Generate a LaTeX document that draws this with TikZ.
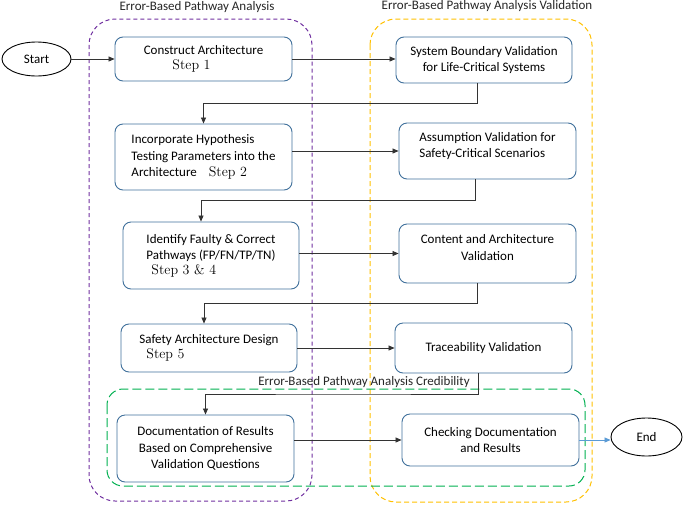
\documentclass[tikz,border=0pt]{standalone}
\usepackage{fontspec}
\newfontfamily\calibfont{Carlito}
\usepackage{tikz}
\usetikzlibrary{positioning}
\usetikzlibrary{calc}
\usetikzlibrary{arrows.meta}
\usetikzlibrary{shapes.geometric}

\definecolor{boxblue}{HTML}{41719C}
\definecolor{grppurple}{HTML}{7030A0}
\definecolor{grpyellow}{HTML}{FFC000}
\definecolor{grpgreen}{HTML}{00B050}
\definecolor{endblue}{HTML}{5B9BD5}
\newcommand{\stepno}[1]{{\rmfamily\fontsize{14}{16}\selectfont #1}}

\begin{document}
\begin{tikzpicture}[x=1pt, y=-1pt, font=\calibfont\fontsize{13}{16.5}\selectfont]

% Define styles for different elements
\tikzstyle{stage} = [rectangle, rounded corners=8pt, draw=boxblue, line width=0.9pt, fill=white, text centered, inner sep=2pt]
\tikzstyle{terminal} = [ellipse, draw=black, line width=0.9pt, inner sep=1pt]
\tikzstyle{arrow} = [line width=0.7pt, draw=black!80, -{Triangle[length=6pt,width=5pt]}]
\tikzstyle{grouplabel} = [text=black!85, inner sep=1pt]

\useasboundingbox (0,0) rectangle (683,504);

% Draw the group frames
\draw [grppurple, line width=1pt, dash pattern=on 4pt off 3pt, rounded corners=26pt] (89,19) rectangle (312,501);
\draw [grpyellow, line width=1pt, dash pattern=on 5pt off 3pt, rounded corners=26pt] (370,19) rectangle (592,502);
\draw [grpgreen, line width=1pt, dash pattern=on 9pt off 4pt, rounded corners=16pt] (107,389) rectangle (585,486);

\node (lblanalysis) [grouplabel] at (197,7) {Error-Based Pathway Analysis};
\node (lblvalid) [grouplabel] at (487,6) {Error-Based Pathway Analysis Validation};
\node (lblcred) [grouplabel] at (364,382) {Error-Based Pathway Analysis Credibility};

% Draw the nodes
\node (start) [terminal, minimum width=69pt, minimum height=34pt] at (36.5,59) {Start};
\node (construct) [stage, minimum width=177pt, minimum height=44pt, align=center] at (203.5,59) {Construct Architecture\\[-1pt]\stepno{Step 1}\hspace*{24pt}};
\node (incorp) [stage, minimum width=177pt, minimum height=66pt, align=left] at (203.5,157) {Incorporate Hypothesis\\Testing Parameters into the\\Architecture\hspace*{12pt}\stepno{Step 2}};
\node (identify) [stage, minimum width=176pt, minimum height=67pt, align=left] at (211,255.5) {Identify Faulty \& Correct\\Pathways (FP/FN/TP/TN)\\[-2pt]\hspace*{5pt}\stepno{Step 3 \& 4}};
\node (safety) [stage, minimum width=176pt, minimum height=48pt, align=left] at (209,348) {Safety Architecture Design\\[-2pt]\hspace*{7pt}\stepno{Step 5}};
\node (document) [stage, minimum width=177pt, minimum height=67pt, align=center] at (205.5,448.5) {Documentation of Results\\Based on Comprehensive\\Validation Questions};

\node (boundary) [stage, minimum width=176pt, minimum height=46pt, align=center] at (484,60) {System Boundary Validation\\for Life-Critical Systems};
\node (assume) [stage, minimum width=177pt, minimum height=56pt, align=left] at (487.5,151) {Assumption Validation for\\Safety-Critical Scenarios\\[-4pt]};
\node (content) [stage, minimum width=177pt, minimum height=59pt, align=center] at (487.5,253.5) {Content and Architecture\\Validation\\[-4pt]};
\node (trace) [stage, minimum width=177pt, minimum height=50pt] at (483.5,348) {Traceability Validation};
\node (checking) [stage, minimum width=177pt, minimum height=52pt, align=center] at (490.5,440) {Checking Documentation\\and Results};
\node (finish) [terminal, minimum width=71pt, minimum height=38pt] at (646.5,437) {End};

% Draw the arrows
\draw [arrow] (start) -- (construct);
\draw [arrow] (construct.east) -- (construct.east -| boundary.west);
\draw [arrow] ([xshift=-7pt]boundary.south) |- ($(boundary.south)!0.5!(incorp.north)$) -| (incorp.north);
\draw [arrow] (incorp.east |- assume.west) -- (assume.west);
\draw [arrow] ([xshift=-12pt]assume.south) |- ($(assume.south)!0.5!(identify.north)$) -| ([xshift=-10pt]identify.north);
\draw [arrow] (identify.east |- content.west) -- (content.west);
\draw [arrow] ([xshift=-10pt]content.south) |- ($(content.south)!0.5!(safety.north)$) -| ([xshift=-5pt]safety.north);
\draw [arrow] (safety.east) -- (trace.west);
\draw [arrow] ([xshift=-5pt]trace.south) |- ($(trace.south)!0.5!(document.north)$) -| (document.north);
\draw [arrow] (document.east |- checking.west) -- (checking.west);
\draw [arrow, draw=endblue] (checking.east) -- (checking.east -| finish.west);
\end{tikzpicture}
\end{document}
